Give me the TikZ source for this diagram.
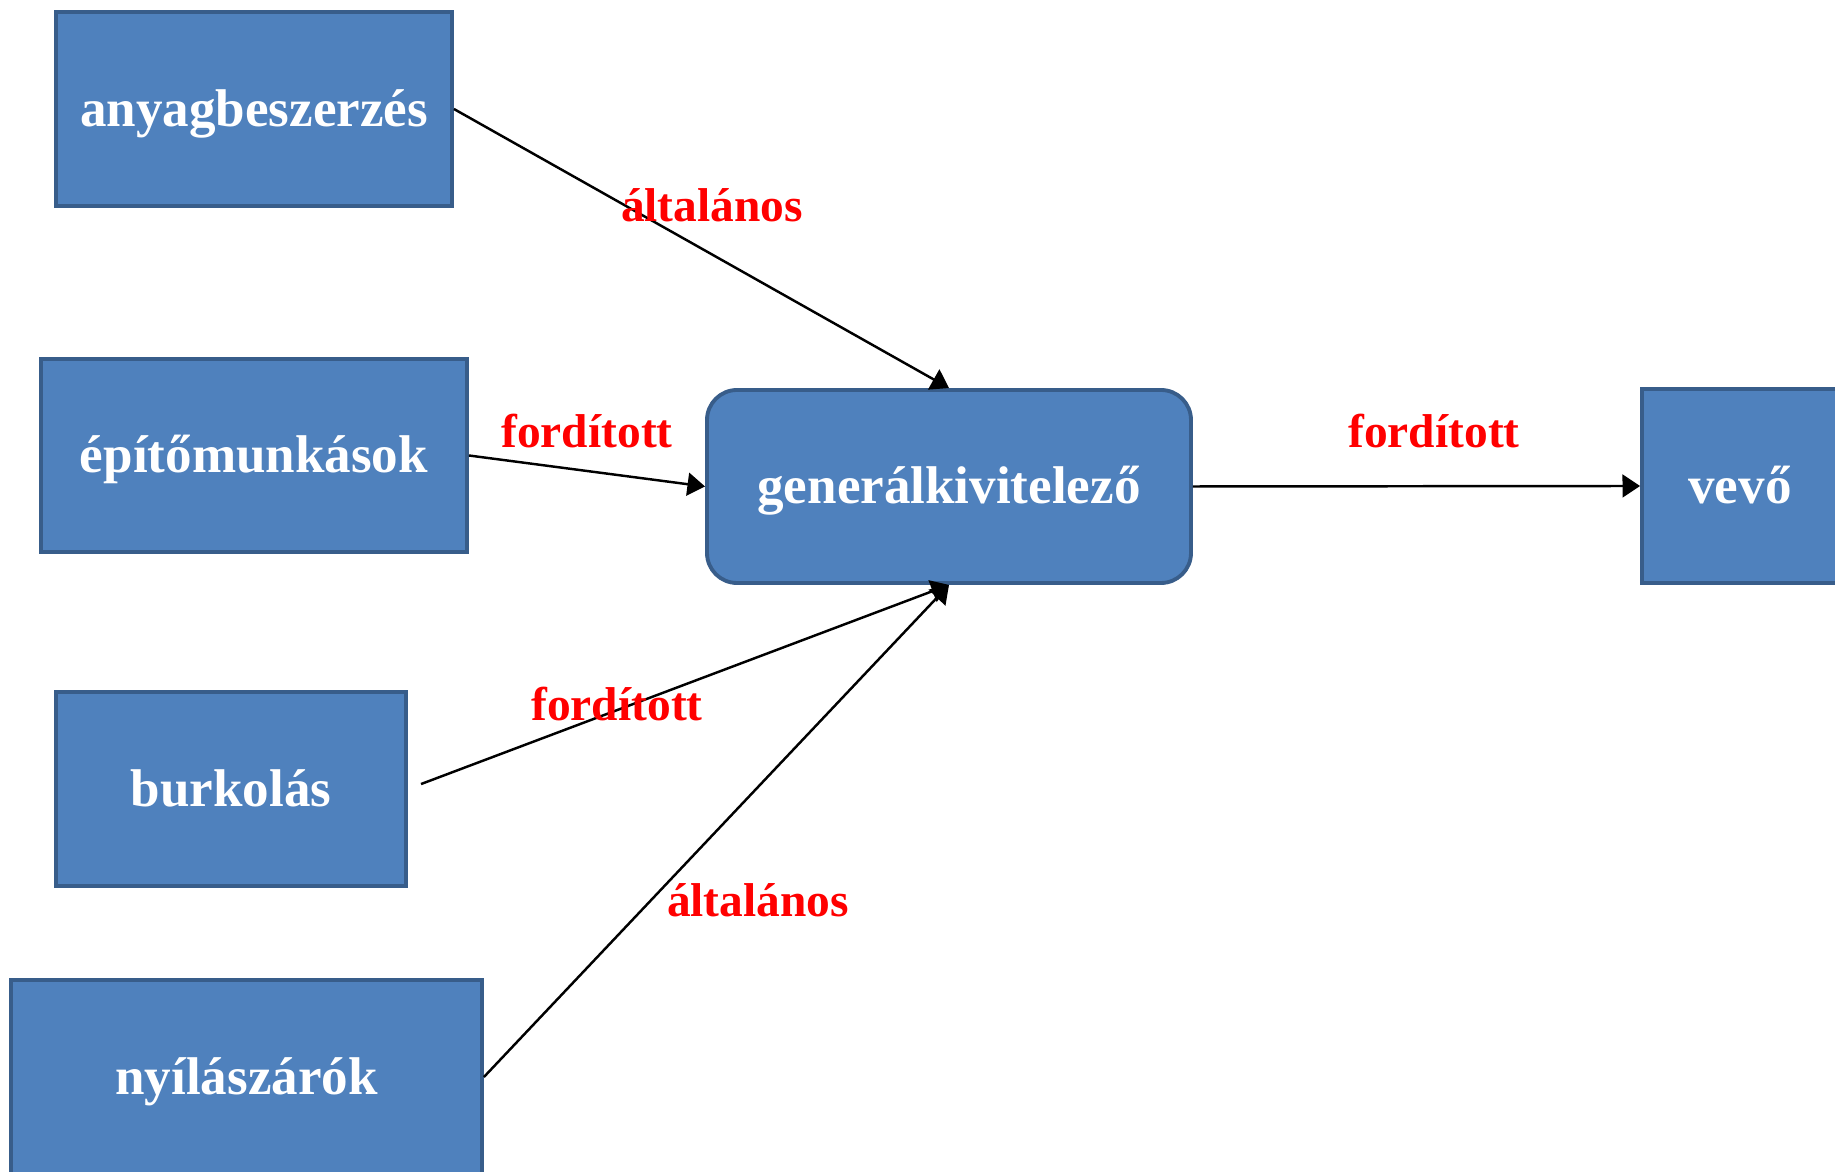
\documentclass[tikz,border=0pt]{standalone}
\usepackage{fontspec}
\setmainfont{Liberation Serif}
\usetikzlibrary{arrows.meta}
\definecolor{boxfill}{HTML}{4F81BD}
\definecolor{boxline}{HTML}{385D8A}
\begin{document}
\begin{tikzpicture}[main/.style = {draw=boxline, line width=1.1pt, fill=boxfill, text=white, inner sep=0pt, text height=12pt, text depth=2.3pt, font=\fontsize{15.1}{18}\selectfont\bfseries},
    lbl/.style = {text=red, inner sep=0pt, font=\fontsize{13.5}{16}\selectfont\bfseries},
    conn/.style = {-{Triangle[length=5pt, width=6.5pt]}, line width=0.7pt}]

    \useasboundingbox (0, 0) rectangle (18.35, 11.72);

    \node[main, minimum width=3.96cm, minimum height=1.94cm] (anyag) at (2.54, 10.63) {anyagbeszerzés};
    \node[main, minimum width=4.26cm, minimum height=1.93cm] (epito) at (2.54, 7.165) {építőmunkások};
    \node[main, minimum width=3.50cm, minimum height=1.94cm] (burk) at (2.31, 3.83) {burkolás};
    \node[main, minimum width=4.71cm, minimum height=1.94cm] (nyil) at (2.465, 0.95) {nyílászárók};

    %--------------------------------------------

    \node[main, rounded corners=0.3cm, minimum width=4.84cm, minimum height=1.93cm] (gen) at (9.49, 6.855) {generálkivitelező};
    \node[main, minimum width=1.96cm, minimum height=1.94cm] (vevo) at (17.40, 6.86) {vevő};

    %--------------------------------------------

    \draw[conn] (anyag.east) -- (gen.north);
    \draw[conn] (epito.east) -- (gen.west);
    \draw[conn, shorten <=0.14cm] (burk.east) -- (gen.south);
    \draw[conn] (nyil.east) -- (gen.south);
    \draw[conn] (gen.east) -- (vevo.west);

    \node[lbl] (l1) at (7.12, 9.67) {általános};
    \node[lbl] (l2) at (5.87, 7.41) {fordított};
    \node[lbl] (l3) at (6.17, 4.68) {fordított};
    \node[lbl] (l4) at (7.58, 2.72) {általános};
    \node[lbl] (l5) at (14.34, 7.41) {fordított};

\end{tikzpicture}
\end{document}
